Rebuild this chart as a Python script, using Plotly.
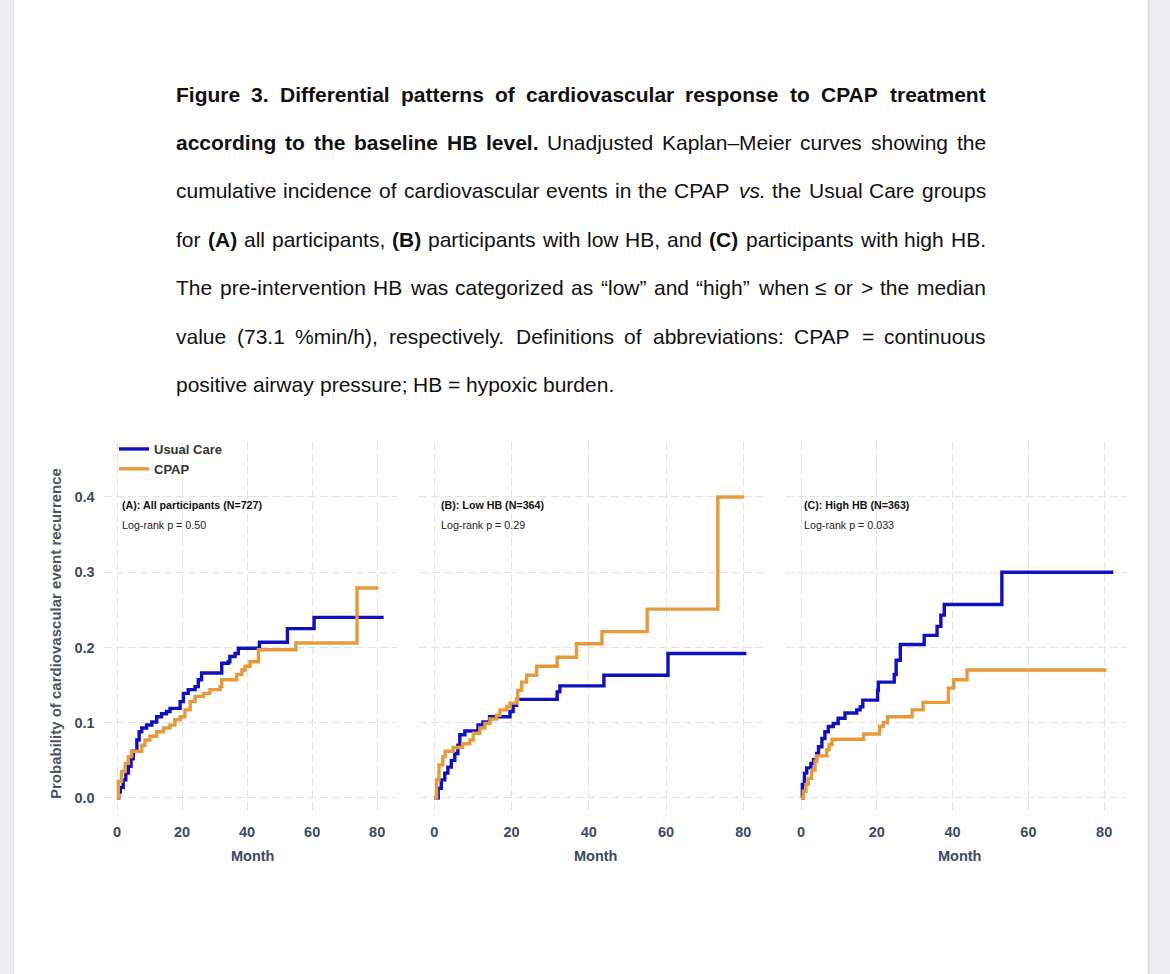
import plotly.graph_objects as go

W, H = 1170, 974

# ---------------- data ----------------
panel_titles = ["(A): All participants (N=727)", "(B): Low HB (N=364)", "(C): High HB (N=363)"]
logrank_labels = ["Log-rank p = 0.50", "Log-rank p = 0.29", "Log-rank p = 0.033"]
group_names = ["Usual Care", "CPAP"]
x_ticks = [0, 20, 40, 60, 80]
x_tick_labels = ["0", "20", "40", "60", "80"]
y_ticks = [0.0, 0.1, 0.2, 0.3, 0.4]
y_tick_labels = ["0.0", "0.1", "0.2", "0.3", "0.4"]

# Panel A: all participants
a_usual_t = [0, 0.5, 1, 1.9, 2.7, 3.5, 4.3, 5, 6.1, 6.8, 7.6, 9.1, 10.7, 12.2, 13.7, 15.2, 16.3,
             19.4, 20.4, 21.9, 24.0, 25.0, 26.0, 32.2, 34.2, 34.7, 36.3, 37.3, 43.8, 52.4, 60.6, 82.0]
a_usual_p = [0, 0.008, 0.014, 0.024, 0.033, 0.042, 0.052, 0.062, 0.077, 0.088, 0.093, 0.097, 0.101,
             0.108, 0.112, 0.115, 0.119, 0.128, 0.139, 0.144, 0.148, 0.157, 0.166, 0.179, 0.181,
             0.188, 0.192, 0.199, 0.207, 0.225, 0.240, 0.240]
a_cpap_t = [0, 0.4, 1.4, 2.5, 3.5, 4.5, 7.6, 8.6, 10.1, 12.2, 14.3, 16.3, 17.8, 19.4, 20.9, 22.5,
            24.0, 26.6, 28.6, 31.7, 32.2, 36.8, 38.4, 39.4, 40.9, 43.5, 55.0, 73.8, 80.4]
a_cpap_p = [0, 0.022, 0.035, 0.046, 0.055, 0.062, 0.070, 0.077, 0.082, 0.088, 0.093, 0.097, 0.104,
            0.108, 0.117, 0.128, 0.135, 0.139, 0.144, 0.148, 0.157, 0.164, 0.170, 0.175, 0.181,
            0.197, 0.206, 0.279, 0.279]

# Panel B: low HB
b_usual_t = [0, 1.0, 1.8, 2.7, 3.5, 4.4, 5.3, 6.1, 6.6, 7.9, 11.3, 12.6, 14.3, 19.6, 20.4, 21.3,
             31.8, 32.5, 43.9, 60.5, 80.8]
b_usual_p = [0, 0.013, 0.024, 0.033, 0.041, 0.050, 0.059, 0.070, 0.084, 0.089, 0.097, 0.101,
             0.108, 0.115, 0.123, 0.131, 0.141, 0.149, 0.163, 0.192, 0.192]
b_cpap_t = [0, 0.6, 1.2, 2.2, 2.8, 4.9, 7.3, 9.2, 10.1, 11.8, 13.1, 14.4, 16.1, 17.0, 18.7, 19.6,
            21.3, 21.6, 22.6, 23.9, 26.5, 31.8, 36.8, 43.4, 55.1, 73.4, 80.2]
b_cpap_p = [0, 0.024, 0.044, 0.055, 0.062, 0.067, 0.072, 0.077, 0.086, 0.093, 0.099, 0.105, 0.110,
            0.117, 0.121, 0.126, 0.131, 0.143, 0.154, 0.163, 0.175, 0.187, 0.205, 0.221, 0.251,
            0.400, 0.400]

# Panel C: high HB
c_usual_t = [0, 0.35, 0.9, 1.5, 2.6, 3.3, 4.1, 4.6, 5.5, 6.3, 7.2, 8.5, 9.8, 11.6, 14.7, 15.6,
             16.3, 20.2, 20.4, 24.6, 25.1, 26.2, 32.5, 35.9, 36.9, 37.8, 53.0, 82.4]
c_usual_p = [0, 0.018, 0.033, 0.040, 0.046, 0.051, 0.059, 0.068, 0.079, 0.088, 0.095, 0.099,
             0.106, 0.113, 0.117, 0.121, 0.130, 0.143, 0.154, 0.164, 0.183, 0.204, 0.216, 0.228,
             0.243, 0.257, 0.300, 0.300]
c_cpap_t = [0, 0.6, 1.3, 1.9, 2.8, 3.7, 4.1, 6.8, 7.4, 8.2, 16.5, 20.7, 21.7, 22.8, 29.3, 32.2,
            38.9, 40.3, 43.8, 80.6]
c_cpap_p = [0, 0.009, 0.018, 0.026, 0.037, 0.049, 0.056, 0.064, 0.071, 0.078, 0.085, 0.095,
            0.100, 0.108, 0.117, 0.127, 0.146, 0.157, 0.170, 0.170]

caption_lines = [
    [("Figure 3. Differential patterns of cardiovascular response to CPAP treatment", "b")],
    [("according to the baseline HB level.", "b"),
     ("Unadjusted Kaplan\u2013Meier curves showing the", "r")],
    [("cumulative incidence of cardiovascular events in the CPAP", "r"), ("vs.", "i"),
     ("the Usual Care groups", "r")],
    [("for", "r"), ("(A)", "b"), ("all participants,", "r"), ("(B)", "b"),
     ("participants with low HB, and", "r"), ("(C)", "b"), ("participants with high HB.", "r")],
    [("The pre-intervention HB was categorized as \u201clow\u201d and \u201chigh\u201d when \u2264 or > the median", "r")],
    [("value (73.1 %min/h), respectively. Definitions of abbreviations: CPAP = continuous", "r")],
    [("positive airway pressure; HB = hypoxic burden.", "r")],
]

# ---------------- style ----------------
BLUE = "#1010bc"
ORANGE = "#e69a3c"
FONT = "Liberation Sans"
AXIS_TXT = "#3c4a5e"
GRID = "#e2e2e2"


def px(x):
    return x / W


def py(y):
    return 1 - y / H


# Arial / Liberation Sans advance widths (1/1000 em)
REG = dict(zip("abcdefghijklmnopqrstuvwxyz",
               [556, 556, 500, 556, 556, 278, 556, 556, 222, 222, 500, 222, 833, 556, 556, 556,
                556, 333, 500, 278, 556, 500, 722, 500, 500, 500]))
REG.update(dict(zip("ABCDEFGHIJKLMNOPQRSTUVWXYZ",
                    [667, 667, 722, 722, 667, 611, 778, 722, 278, 500, 667, 556, 833, 722, 778,
                     667, 778, 722, 667, 611, 722, 667, 944, 667, 667, 611])))
REG.update({".": 278, ",": 278, ";": 278, ":": 278, "(": 333, ")": 333, "-": 333, "\u2013": 556,
            "%": 889, "/": 278, "=": 584, ">": 584, "\u2264": 549, "\u201c": 333, "\u201d": 333})
for d in "0123456789":
    REG[d] = 556
BOLD = dict(zip("abcdefghijklmnopqrstuvwxyz",
                [556, 611, 556, 611, 556, 333, 611, 611, 278, 278, 556, 278, 889, 611, 611, 611,
                 611, 389, 556, 333, 611, 556, 778, 556, 556, 500]))
BOLD.update(dict(zip("ABCDEFGHIJKLMNOPQRSTUVWXYZ",
                     [722, 722, 722, 722, 667, 611, 778, 722, 278, 556, 722, 611, 833, 722, 778,
                      667, 778, 722, 667, 611, 722, 667, 944, 667, 667, 611])))
BOLD.update({".": 278, ",": 278, ";": 333, ":": 333, "(": 333, ")": 333, "-": 333, "\u2013": 556,
             "%": 889, "/": 278, "=": 584})
for d in "0123456789":
    BOLD[d] = 556
SPACE = 278


def word_width(w, style, size):
    tab = BOLD if style == "b" else REG
    return sum(tab.get(ch, 556) for ch in w) / 1000 * size


fig = go.Figure()

panels = [
    (a_usual_t, a_usual_p, a_cpap_t, a_cpap_p),
    (b_usual_t, b_usual_p, b_cpap_t, b_cpap_p),
    (c_usual_t, c_usual_p, c_cpap_t, c_cpap_p),
]
# pixel extents of each panel [left, right]
panel_px = [(103.7, 397.0), (418.5, 766.9), (785.5, 1127.3)]
PANEL_TOP, PANEL_BOT = 442.4, 814.9

for i, (ut, up, ct, cp) in enumerate(panels):
    xa = "x" if i == 0 else f"x{i+1}"
    ya = "y" if i == 0 else f"y{i+1}"
    fig.add_trace(go.Scatter(x=ut, y=up, mode="lines", line=dict(color=BLUE, width=3.4, shape="hv"),
                             name=group_names[0], showlegend=(i == 0), xaxis=xa, yaxis=ya))
    fig.add_trace(go.Scatter(x=ct, y=cp, mode="lines", line=dict(color=ORANGE, width=3.4, shape="hv"),
                             name=group_names[1], showlegend=(i == 0), xaxis=xa, yaxis=ya))

axis_common = dict(showline=False, zeroline=False, showgrid=True, gridcolor=GRID, gridwidth=1,
                   griddash="8px,4px", ticks="")
layout_axes = {}
for i, (l, r) in enumerate(panel_px):
    sx = "xaxis" if i == 0 else f"xaxis{i+1}"
    sy = "yaxis" if i == 0 else f"yaxis{i+1}"
    layout_axes[sx] = dict(axis_common, domain=[px(l), px(r)], range=[-4.1, 86.1],
                           tickvals=x_ticks, ticktext=x_tick_labels,
                           tickfont=dict(family=FONT, size=14.5, color=AXIS_TXT, weight="bold"),
                           ticklabelstandoff=7,
                           anchor="y" if i == 0 else f"y{i+1}")
    layout_axes[sy] = dict(axis_common, domain=[py(PANEL_BOT), py(PANEL_TOP)],
                           range=[-0.0225, 0.4725], tickvals=y_ticks, ticktext=y_tick_labels,
                           showticklabels=(i == 0),
                           tickfont=dict(family=FONT, size=14.5, color=AXIS_TXT, weight="bold"),
                           ticklabelstandoff=8,
                           anchor="x" if i == 0 else f"x{i+1}")

annotations = []
# panel labels
for i, (l, r) in enumerate(panel_px):
    left = [120, 439, 802][i]
    annotations.append(dict(text=f"<b>{panel_titles[i]}</b>", x=px(left), y=py(505), xref="paper",
                            yref="paper", xanchor="left", yanchor="middle", showarrow=False,
                            font=dict(family=FONT, size=10.7, color="#111111")))
    annotations.append(dict(text=logrank_labels[i], x=px(left), y=py(525), xref="paper",
                            yref="paper", xanchor="left", yanchor="middle", showarrow=False,
                            font=dict(family=FONT, size=10.7, color="#222222")))
    annotations.append(dict(text="<b>Month</b>", x=px((l + r) / 2 + [3, 4, 4][i] - 1), y=py(856),
                            xref="paper", yref="paper", xanchor="center", yanchor="middle",
                            showarrow=False, font=dict(family=FONT, size=14.5, color=AXIS_TXT)))

annotations.append(dict(text="<b>Probability of cardiovascular event recurrence</b>", x=px(55),
                        y=py(634), xref="paper", yref="paper", xanchor="center", yanchor="middle",
                        textangle=-90, showarrow=False,
                        font=dict(family=FONT, size=15, color="#4a5568")))

# caption, justified between x=175 and x=985
CAP_L, CAP_R = 175, 985
CAP_SIZE = 21
cap_y = [94, 143, 191, 239, 287, 336, 384]
for li, segs in enumerate(caption_lines):
    words = []
    for txt, st in segs:
        for w in txt.split(" "):
            words.append((w, st))
    widths = [word_width(w, st, CAP_SIZE) for w, st in words]
    last = li == len(caption_lines) - 1
    if last or len(words) < 2:
        gap = SPACE / 1000 * CAP_SIZE
    else:
        gap = (CAP_R - CAP_L - sum(widths)) / (len(words) - 1)
    xcur = CAP_L
    for (w, st), wd in zip(words, widths):
        t = f"<b>{w}</b>" if st == "b" else (f"<i>{w}</i>" if st == "i" else w)
        annotations.append(dict(text=t, x=px(xcur - 1), y=py(cap_y[li]), xref="paper", yref="paper",
                                xanchor="left", yanchor="middle", showarrow=False,
                                font=dict(family=FONT, size=CAP_SIZE, color="#111111")))
        xcur += wd + gap

shapes = [
    dict(type="rect", xref="paper", yref="paper", x0=0, x1=px(13), y0=0, y1=1,
         fillcolor="#ebebf0", line=dict(width=0), layer="below"),
    dict(type="rect", xref="paper", yref="paper", x0=px(1148), x1=1, y0=0, y1=1,
         fillcolor="#ebebf0", line=dict(width=0), layer="below"),
    dict(type="line", xref="paper", yref="paper", x0=px(1148.5), x1=px(1148.5), y0=0, y1=1,
         line=dict(color="#d8d8de", width=1.5), layer="below"),
    dict(type="line", xref="paper", yref="paper", x0=px(13.5), x1=px(13.5), y0=0, y1=1,
         line=dict(color="#e0e0e6", width=1), layer="below"),
]

fig.update_layout(
    width=W, height=H, autosize=False,
    margin=dict(l=0, r=0, t=0, b=0),
    paper_bgcolor="white", plot_bgcolor="rgba(0,0,0,0)",
    font=dict(family=FONT),
    legend=dict(x=px(114), y=py(434), xanchor="left", yanchor="top", bgcolor="rgba(0,0,0,0)",
                font=dict(family=FONT, size=13, color="#333333", weight="bold"),
                itemwidth=30, tracegroupgap=2),
    annotations=annotations,
    shapes=shapes,
    **layout_axes,
)

fig.write_html("out.html", config={"displayModeBar": False},
               post_script="document.body.style.margin='0';document.body.style.overflow='hidden';")
